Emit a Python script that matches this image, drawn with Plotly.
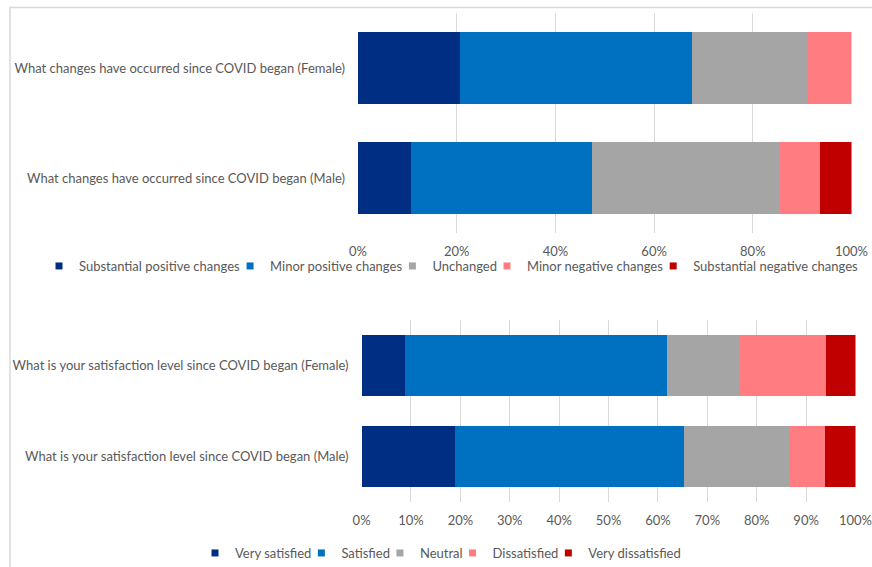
import plotly.graph_objects as go

# ---- data ----
top_categories = ["What changes have occurred since COVID began (Male)",
                  "What changes have occurred since COVID began (Female)"]
top_series = ["Substantial positive changes", "Minor positive changes", "Unchanged",
              "Minor negative changes", "Substantial negative changes"]
top_male = [10.8, 36.7, 37.9, 8.3, 6.3]
top_female = [20.6, 47.0, 23.6, 8.8, 0.0]

bot_categories = ["What is your satisfaction level since COVID began (Male)",
                  "What is your satisfaction level since COVID began (Female)"]
bot_series = ["Very satisfied", "Satisfied", "Neutral", "Dissatisfied", "Very dissatisfied"]
bot_male = [18.9, 46.4, 21.4, 7.2, 6.1]
bot_female = [8.8, 53.0, 14.7, 17.6, 5.9]

colors = ["#002E82", "#0070C0", "#A5A5A5", "#FF7C80", "#C00000"]

W, H = 872, 567
TXT = "#595959"
GRID = "#D9D9D9"
FONT = "Lato"
FS = 13

fig = go.Figure()
panels = [
    (top_categories, top_series, top_male, top_female, "x", "y", "legend", "t"),
    (bot_categories, bot_series, bot_male, bot_female, "x2", "y2", "legend2", "b"),
]
for cats, series, male, female, xa, ya, lg, tag in panels:
    for i, name in enumerate(series):
        fig.add_trace(go.Bar(
            y=cats, x=[male[i], female[i]], name=name, orientation="h",
            marker=dict(color=colors[i], line=dict(width=0)),
            xaxis=xa, yaxis=ya, showlegend=False, legendgroup=tag + name,
            hoverinfo="x+name"))
    # legend entries (small square swatches, Excel style)
    for i, name in enumerate(series):
        fig.add_trace(go.Scatter(
            x=[None], y=[None], mode="markers", name=name,
            marker=dict(symbol="square", size=7, color=colors[i]),
            xaxis=xa, yaxis=ya, legend=lg, legendgroup=tag + name, showlegend=True))


def px_x(p):
    return p / W


def px_y(p):
    return 1 - p / H


xcommon = dict(range=[0, 100], ticksuffix="%", showgrid=True, gridcolor=GRID, gridwidth=1,
               zeroline=False, showline=False, ticks="", ticklabelstandoff=9,
               automargin=False, ticklabeloverflow="allow",
               tickfont=dict(family=FONT, size=FS, color=TXT), fixedrange=True)
ycommon = dict(showgrid=False, zeroline=False, showline=False, ticks="",
               tickfont=dict(family=FONT, size=FS, color=TXT), ticklabelstandoff=12,
               automargin=False, ticklabeloverflow="allow", fixedrange=True)

legcommon = dict(orientation="h", xanchor="center", yanchor="middle",
                 font=dict(family=FONT, size=FS, color=TXT), itemwidth=30,
                 indentation=-15, bgcolor="rgba(0,0,0,0)", traceorder="normal")

fig.update_layout(
    width=W, height=H, margin=dict(l=0, r=0, t=0, b=0, autoexpand=False),
    paper_bgcolor="white", plot_bgcolor="white",
    barmode="stack", bargap=0.34,
    xaxis=dict(domain=[px_x(358), px_x(851.5)], dtick=20, anchor="y", **xcommon),
    yaxis=dict(domain=[px_y(233), px_y(13)], anchor="x", **ycommon),
    xaxis2=dict(domain=[px_x(361.6), px_x(855.5)], dtick=10, anchor="y2", **xcommon),
    yaxis2=dict(domain=[px_y(502), px_y(320)], anchor="x2", **ycommon),
    legend=dict(x=px_x(459), y=px_y(266), **legcommon),
    legend2=dict(x=px_x(448), y=px_y(553), **legcommon),
    shapes=[dict(type="rect", xref="paper", yref="paper",
                 x0=px_x(10), x1=1.05, y0=-0.05, y1=px_y(7.5),
                 line=dict(color=GRID, width=1.5), layer="below")],
    showlegend=True,
)

fig.write_html(
    "out.html",
    config={"displayModeBar": False},
    post_script=("document.body.style.margin='0';"
                 "document.documentElement.style.overflow='hidden';"
                 "document.body.style.overflow='hidden';"),
)
